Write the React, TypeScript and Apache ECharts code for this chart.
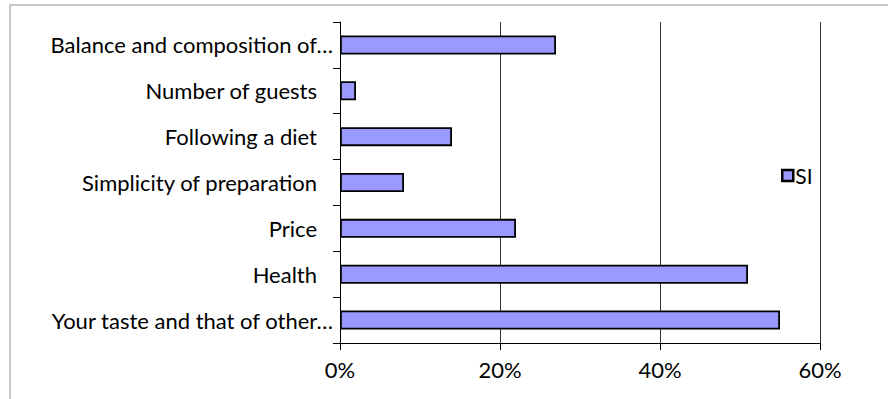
import React, { useEffect, useRef } from "react";
import * as echarts from "echarts";

const categories = [
  "Balance and composition of…",
  "Number of guests",
  "Following a diet",
  "Simplicity of preparation",
  "Price",
  "Health",
  "Your taste and that of other…",
];
const truncated = [true, false, false, false, false, false, true];
const siValues = [27, 2, 14, 8, 22, 51, 55];
const xTicks = [0, 20, 40, 60];

const FONT = "Lato";

export default function App() {
  const ref = useRef<HTMLDivElement>(null);
  useEffect(() => {
    if (!ref.current) return;
    const chart = echarts.init(ref.current, null, { renderer: "svg" });
    chart.setOption({
      animation: false,
      backgroundColor: "#ffffff",
      textStyle: { fontFamily: FONT },
      graphic: [
        {
          type: "rect",
          shape: { x: 10, y: 5, width: 900, height: 500 },
          style: { fill: "none", stroke: "#c8c8c8", lineWidth: 2 },
          silent: true,
        },
      ],
      grid: { left: 340, right: 68, top: 22, bottom: 56 },
      legend: {
        data: [{ name: "SI", icon: "rect" }],
        left: 776,
        top: 160,
        itemWidth: 11,
        itemHeight: 11,
        itemGap: 4,
        itemStyle: { borderColor: "#000", borderWidth: 2.5 },
        textStyle: { fontFamily: FONT, fontSize: 21, color: "#000", padding: [0, 0, 0, -3] },
      },
      xAxis: {
        type: "value",
        min: xTicks[0],
        max: xTicks[xTicks.length - 1],
        interval: 20,
        axisLine: { show: true, lineStyle: { color: "#000", width: 1 } },
        axisTick: { show: true, length: 7, lineStyle: { color: "#000" } },
        axisLabel: {
          formatter: "{value}%",
          color: "#000",
          fontSize: 22,
          fontFamily: FONT,
          margin: 15,
        },
        splitLine: { show: true, lineStyle: { color: "#333", width: 1 } },
      },
      yAxis: {
        type: "category",
        inverse: true,
        data: categories.map((c, i) => ({
          value: c,
          textStyle: { padding: [0, truncated[i] ? 0 : 16, 0, 0] },
        })),
        axisLine: { show: true, lineStyle: { color: "#000", width: 1 } },
        axisTick: { show: true, length: 7, alignWithLabel: false, lineStyle: { color: "#000" } },
        axisLabel: { color: "#000", fontSize: 22, fontFamily: FONT, margin: 7 },
        splitLine: { show: false },
      },
      series: [
        {
          name: "SI",
          type: "bar",
          data: siValues,
          barWidth: 19,
          itemStyle: { color: "#9999ff", borderColor: "#000", borderWidth: 1.8 },
        },
      ],
    });
    return () => chart.dispose();
  }, []);
  return (
    <div
      ref={ref}
      style={{ position: "fixed", left: 0, top: 0, width: 888, height: 399 }}
    />
  );
}
